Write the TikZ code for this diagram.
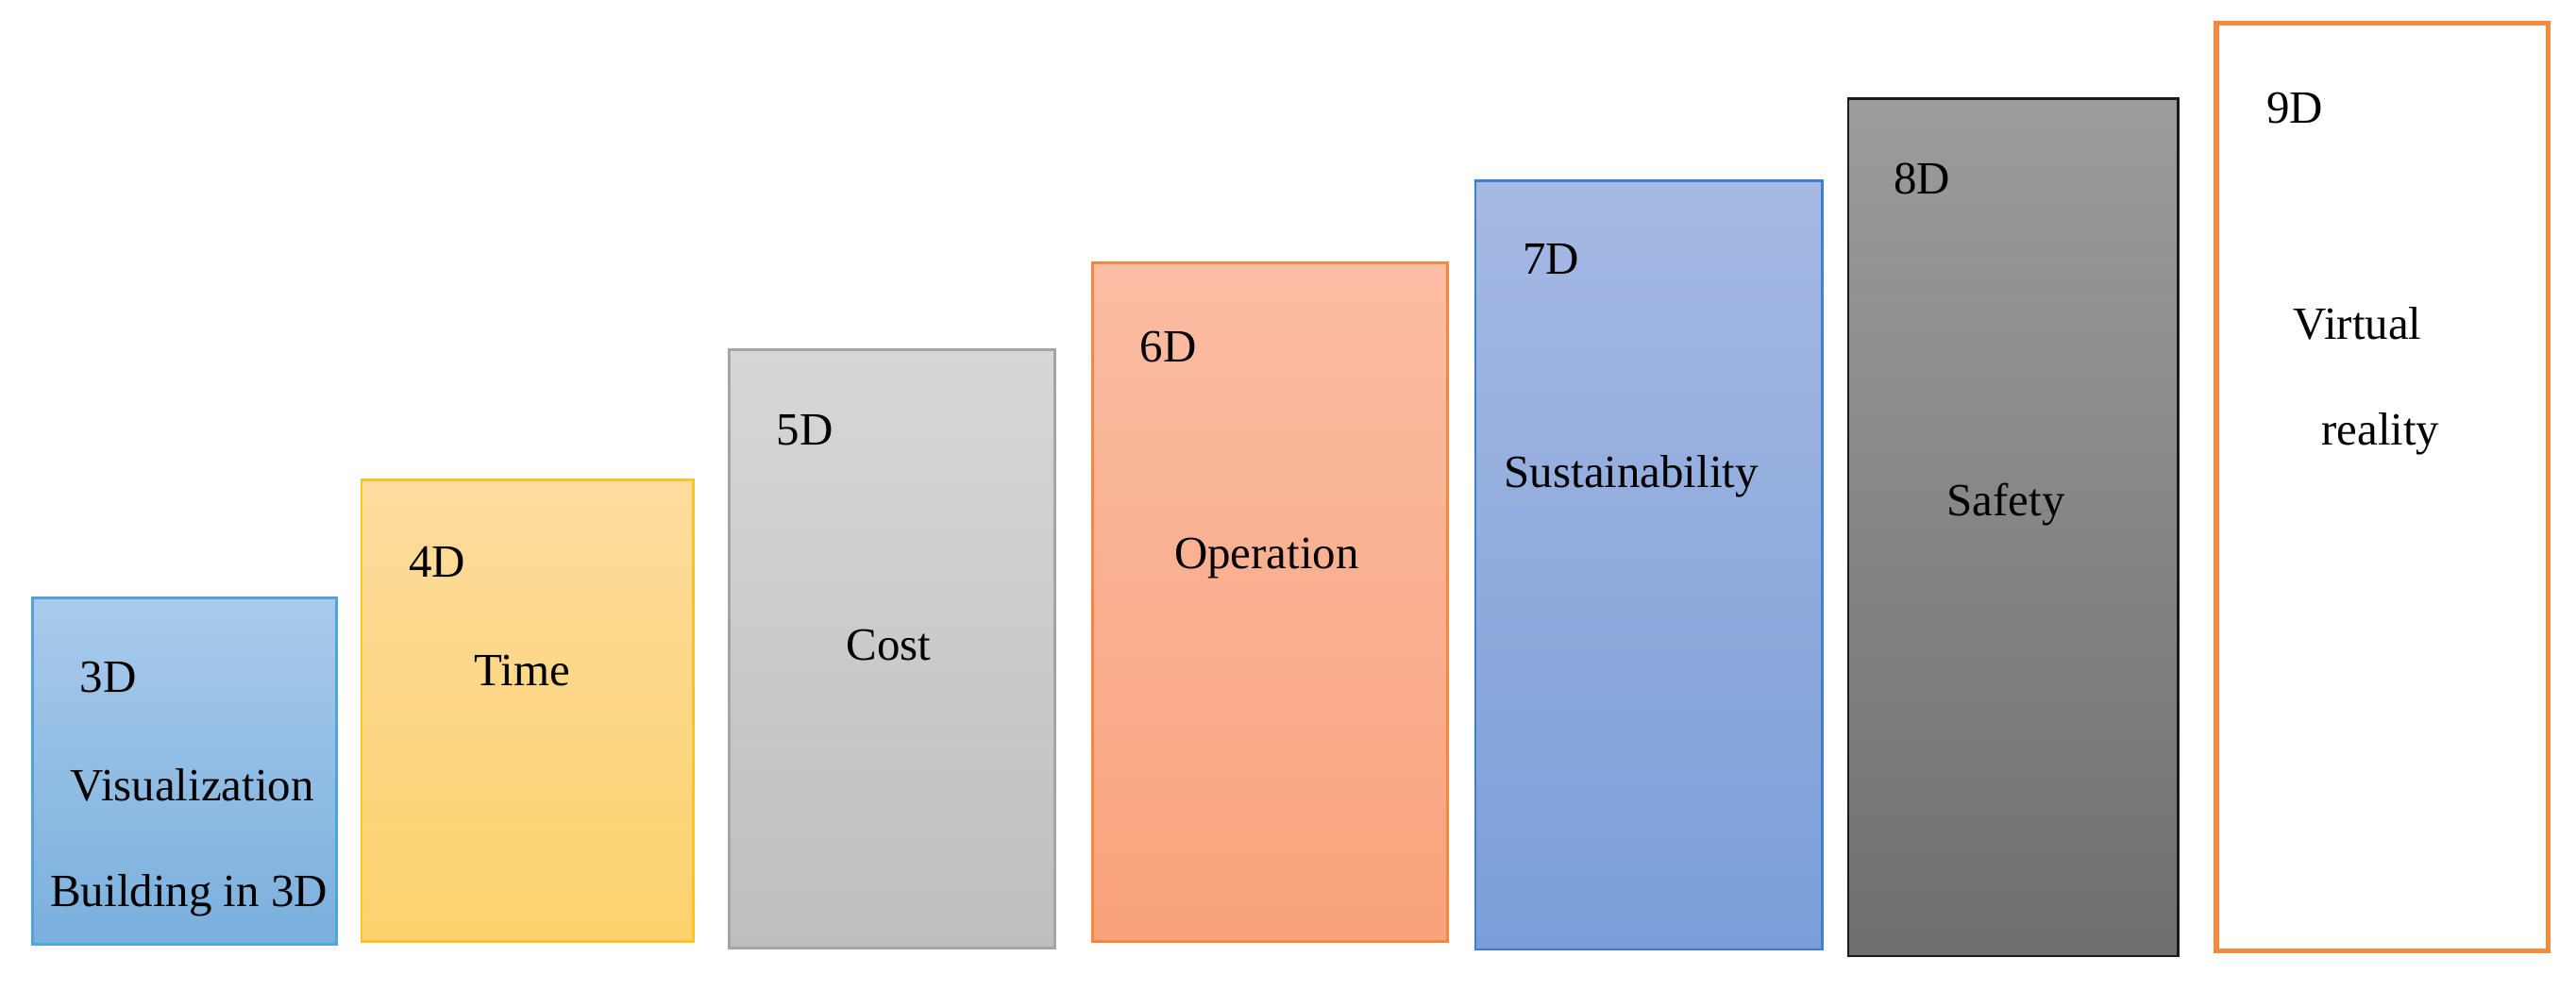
\documentclass[tikz,border=0pt]{standalone}
\usepackage{fontspec}
\setmainfont{Liberation Serif}
\definecolor{b3t}{HTML}{A9CAEB}\definecolor{b3b}{HTML}{7AB0DD}\definecolor{b3d}{HTML}{4EA5DC}
\definecolor{b4t}{HTML}{FDDC9E}\definecolor{b4b}{HTML}{FCD26C}\definecolor{b4d}{HTML}{FCC22A}
\definecolor{b5t}{HTML}{D7D7D7}\definecolor{b5b}{HTML}{BEBEBE}\definecolor{b5d}{HTML}{A5A5A5}
\definecolor{b6t}{HTML}{FBBDA4}\definecolor{b6b}{HTML}{F9A27B}\definecolor{b6d}{HTML}{F4883E}
\definecolor{b7t}{HTML}{A6B9E3}\definecolor{b7b}{HTML}{7A9ED8}\definecolor{b7d}{HTML}{3F7FD0}
\definecolor{b8t}{HTML}{9C9C9C}\definecolor{b8b}{HTML}{6F6F6F}\definecolor{b8d}{HTML}{1A1A1A}
\definecolor{b9d}{HTML}{F5893C}
\begin{document}
\begin{tikzpicture}[x=0.02cm,y=-0.02cm,
  bar/.style={line width=0.9pt},
  lbl/.style={font=\fontsize{16}{19}\selectfont,inner sep=0pt}]
\useasboundingbox (0,0) rectangle (1568,603);
\draw[bar,draw=b3d,top color=b3t,bottom color=b3b] (20,364) rectangle (205,575);
\draw[bar,draw=b4d,top color=b4t,bottom color=b4b] (220,292) rectangle (422,573);
\draw[bar,draw=b5d,top color=b5t,bottom color=b5b] (444,213) rectangle (642,577);
\draw[bar,draw=b6d,top color=b6t,bottom color=b6b] (665,160) rectangle (881,573);
\draw[bar,draw=b7d,top color=b7t,bottom color=b7b] (898,110) rectangle (1109,578);
\draw[bar,draw=b8d,top color=b8t,bottom color=b8b] (1125,60) rectangle (1326,582);
\draw[line width=1.8pt,draw=b9d,fill=white] (1349,14) rectangle (1551,579);
\node[lbl] (l3) at (66,412) {3D};
\node[lbl] (v3) at (117,478) {Visualization};
\node[lbl] (w3) at (115,545) {Building in 3D};
\node[lbl] (l4) at (266,342) {4D};
\node[lbl] (t4) at (318,408) {Time};
\node[lbl] (l5) at (490,262) {5D};
\node[lbl] (t5) at (541,393) {Cost};
\node[lbl] (l6) at (711,211) {6D};
\node[lbl] (t6) at (771,340) {Operation};
\node[lbl] (l7) at (944,158) {7D};
\node[lbl] (t7) at (993,290) {Sustainability};
\node[lbl] (l8) at (1170,109) {8D};
\node[lbl] (t8) at (1221,307) {Safety};
\node[lbl] (l9) at (1397,66) {9D};
\node[lbl] (t9) at (1435,197) {Virtual};
\node[lbl] (u9) at (1449,264) {reality};
\end{tikzpicture}
\end{document}
